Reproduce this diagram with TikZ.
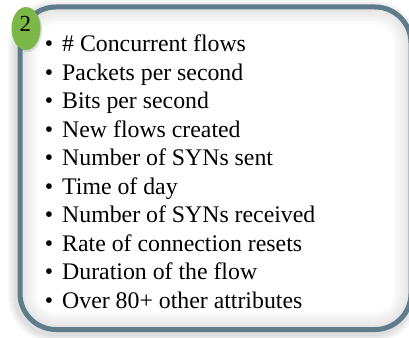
\documentclass[tikz,border=0pt]{standalone}
\usepackage{fontspec}
\setmainfont{Liberation Serif}
\usetikzlibrary{shapes.geometric}
\definecolor{frame}{HTML}{5E7C89}
\definecolor{badge}{HTML}{7CB848}
\begin{document}
\begin{tikzpicture}[x=1pt,y=1pt,
  item/.style={anchor=base west, inner sep=0pt, font=\fontsize{23.8}{28}\selectfont},
  dot/.style={anchor=base, inner sep=0pt, font=\fontsize{23.8}{28}\selectfont},
  panel/.style={rounded corners=36pt}]
\useasboundingbox (0,0) rectangle (409,337);
\fill[white] (0,0) rectangle (409,337);
% soft outer shadow, down and to the left
\foreach \w in {20,16,12,8}
  \draw[black, opacity=0.03, line width=\w pt, panel, shift={(-2,-3)}] (20,7.5) rectangle (411,330);
% panel body
\fill[white, panel] (20,7.5) rectangle (411,330);
% inner shade along the frame
\begin{scope}
  \clip[panel] (20,7.5) rectangle (411,330);
  \foreach \w in {34,28,22,16,10}
    \draw[black, opacity=0.018, line width=\w pt, panel] (20,7.5) rectangle (411,330);
\end{scope}
% frame
\draw[frame, line width=5pt, panel] (20,7.5) rectangle (411,330);
% bullet list
\foreach \t [count=\i] in {{\# Concurrent flows},{Packets per second},{Bits per second},
    {New flows created},{Number of SYNs sent},{Time of day},{Number of SYNs received},
    {Rate of connection resets},{Duration of the flow},{Over 80+ other attributes}}
{
  \node[dot] (b\i) at (49, {285-28.5*(\i-1)}) {•};
  \node[item] (l\i) at (62, {285-28.5*(\i-1)}) {\t};
}
% numbered badge
\fill[black, opacity=0.12] (27.5,307) ellipse [x radius=14.5, y radius=22];
\node[ellipse, fill=badge, minimum width=29pt, minimum height=43pt, inner sep=0pt] (badge) at (26,308.5) {};
\node[inner sep=0pt, font=\fontsize{23}{26}\selectfont] (num) at (25.5,313) {2};
\end{tikzpicture}
\end{document}
